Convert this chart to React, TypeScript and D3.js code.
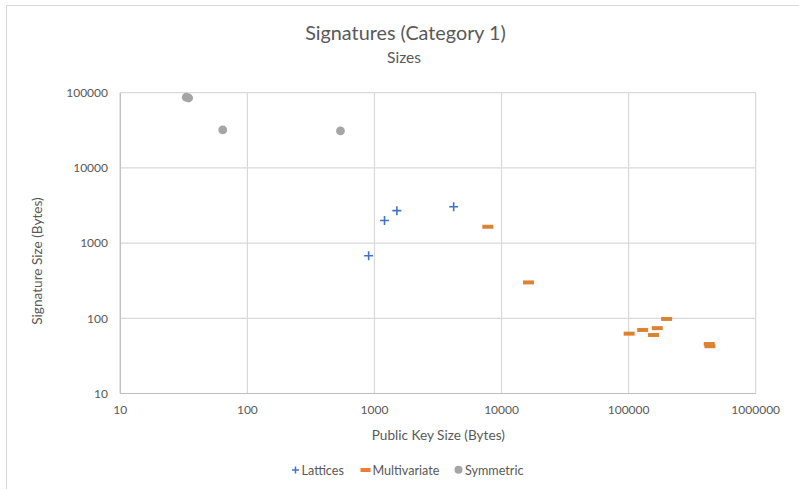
import React from "react";
import * as d3 from "d3";

const latticesX = [1200, 1500, 4200, 900];
const latticesY = [2000, 2700, 3050, 680];
const multivariateX = [7800, 16300, 199000, 129000, 168000, 101000, 157000, 431000, 436000];
const multivariateY = [1650, 300, 98, 70, 74, 62.5, 60, 45.5, 42.5];
const symmetricX = [33, 34.5, 64, 540];
const symmetricY = [87000, 85000, 32000, 31000];
const xTicks = [10, 100, 1000, 10000, 100000, 1000000];
const yTicks = [10, 100, 1000, 10000, 100000];

const W = 799;
const H = 489;
const FONT = "Lato, 'Open Sans', sans-serif";
const TXT = "#595959";

export default function App() {
  const x = d3.scaleLog().domain([10, 1000000]).range([120.3, 755.7]);
  const y = d3.scaleLog().domain([10, 100000]).range([393.5, 92.7]);

  const lat = latticesX.map((v, i) => [x(v), y(latticesY[i])]);
  const mv = multivariateX.map((v, i) => [x(v), y(multivariateY[i])]);
  const sym = symmetricX.map((v, i) => [x(v), y(symmetricY[i])]);

  return (
    <svg width={W} height={H} style={{ position: "absolute", left: 0, top: 0, background: "#fff" }}>
      <rect x={6.5} y={5.5} width={W + 20} height={H + 20} fill="#fff" stroke="#d9d9d9" strokeWidth={1} />
      {xTicks.map((t) => (
        <line key={"gx" + t} x1={x(t)} x2={x(t)} y1={y(100000)} y2={y(10)} stroke="#d9d9d9" strokeWidth={1.2} />
      ))}
      {yTicks.map((t) => (
        <line key={"gy" + t} x1={x(10)} x2={x(1000000)} y1={y(t)} y2={y(t)} stroke="#d9d9d9" strokeWidth={1.2} />
      ))}
      <line x1={x(10)} x2={x(1000000)} y1={y(10)} y2={y(10)} stroke="#bfbfbf" strokeWidth={1.2} />
      <line x1={x(10)} x2={x(10)} y1={y(100000)} y2={y(10)} stroke="#bfbfbf" strokeWidth={1.2} />
      {xTicks.map((t) => (
        <text key={"tx" + t} x={x(t)} y={414} textAnchor="middle" fontFamily={FONT} fontSize={12} fill={TXT}>
          {d3.format("d")(t)}
        </text>
      ))}
      {yTicks.map((t) => (
        <text key={"ty" + t} x={108} y={y(t) + 4.3} textAnchor="end" fontFamily={FONT} fontSize={12} fill={TXT}>
          {d3.format("d")(t)}
        </text>
      ))}
      <text x={405.5} y={39.5} textAnchor="middle" fontFamily={FONT} fontSize={19.8} fill={TXT}>
        Signatures (Category 1)
      </text>
      <text x={404} y={62.5} textAnchor="middle" fontFamily={FONT} fontSize={15.5} fill={TXT}>
        Sizes
      </text>
      <text x={438.3} y={440} textAnchor="middle" fontFamily={FONT} fontSize={13.6} fill={TXT}>
        Public Key Size (Bytes)
      </text>
      <text
        transform={`translate(41.5,261) rotate(-90)`}
        textAnchor="middle"
        fontFamily={FONT}
        fontSize={13.6}
        fill={TXT}
      >
        Signature Size (Bytes)
      </text>
      {sym.map(([cx, cy], i) => (
        <circle key={"s" + i} cx={cx} cy={cy} r={4.4} fill="#A5A5A5" />
      ))}
      {lat.map(([cx, cy], i) => (
        <path key={"l" + i} d={`M${cx - 4.5},${cy}H${cx + 4.5}M${cx},${cy - 4.5}V${cy + 4.5}`} stroke="#4472C4" strokeWidth={1.6} />
      ))}
      {mv.map(([cx, cy], i) => (
        <g key={"m" + i}>
          <rect x={cx - 5.5} y={cy - 2} width={11} height={4} fill="#ED7D31" />
          <line x1={cx - 4} x2={cx + 4} y1={cy} y2={cy} stroke="#A0983A" strokeWidth={1} />
        </g>
      ))}
      <g fontFamily={FONT} fontSize={12.6} fill={TXT}>
        <path d="M292,470H299M295.5,466.5V473.5" stroke="#4472C4" strokeWidth={1.5} />
        <text x={301.5} y={474.5}>Lattices</text>
        <rect x={360.5} y={468} width={10} height={4} fill="#ED7D31" />
        <text x={372.5} y={474.5}>Multivariate</text>
        <circle cx={458.5} cy={469.8} r={4} fill="#A5A5A5" />
        <text x={465} y={474.5}>Symmetric</text>
      </g>
    </svg>
  );
}
